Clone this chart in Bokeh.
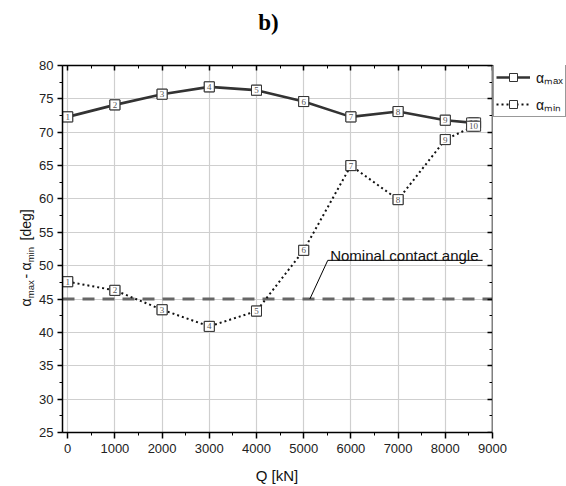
import math
from bokeh.plotting import figure
from bokeh.layouts import row, column
from bokeh.models import (Range1d, LinearAxis, SingleIntervalTicker, Label,
                          Legend, LegendItem, ColumnDataSource, BoxAnnotation,
                          CustomJSTickFormatter)
from bokeh.core.properties import value
from bokeh.embed import file_html
from bokeh.resources import INLINE

# ---------------- data ----------------
Q = [0, 1000, 2000, 3000, 4000, 5000, 6000, 7000, 8000, 8600]
alpha_max = [72.3, 74.1, 75.7, 76.8, 76.3, 74.6, 72.3, 73.1, 71.8, 71.4]
alpha_min = [47.6, 46.3, 43.4, 40.9, 43.2, 52.3, 65.0, 59.9, 68.9, 70.9]
point_labels = ["1", "2", "3", "4", "5", "6", "7", "8", "9", "10"]
series_subscripts = ["max", "min"]
series_names = ["\u03b1\u2098\u2090\u2093", "\u03b1\u2098\u1d62\u2099"]
nominal_angle = 45
x_start, x_end = -110, 9000
y_start, y_end = 25, 80
x_ticks_interval = 1000
y_ticks_interval = 5
annot_text = "Nominal contact angle"
annot_x = [5130, 5510, 8790]
annot_y = [45, 50.8, 50.8]
annot_text_xy = (5560, 51.6)
title_text = "b)"
x_label = "Q [kN]"

FONT = "Liberation Sans"
SERIF = "Liberation Serif"
FRAME_BOTTOM = 432   # page y of the plot frame bottom (side strip shares it)
FRAME_LEFT = 62
AXIS_PX = 430        # pixels between x_start and x_end
FRAME_PX = 566 - FRAME_LEFT   # frame runs on under the legend


def bare(fig):
    fig.outline_line_color = None
    fig.background_fill_color = "white"
    fig.border_fill_color = "white"
    fig.grid.visible = False
    return fig


def lab(fig, text, x, y, size, angle=0, align="left", baseline="alphabetic",
        font=FONT, style="normal", color="#111111"):
    fig.add_layout(Label(x=x, y=y, x_units="screen", y_units="screen",
                         text=text, angle=angle, text_align=align,
                         text_baseline=baseline, text_font=font,
                         text_font_size=f"{size}px", text_font_style=style,
                         text_color=color, level="overlay"))


# ---------------- title strip ----------------
TH = 36
pt = bare(figure(width=566, height=TH, min_border=0, toolbar_location=None,
                 x_axis_location=None, y_axis_location=None,
                 output_backend="svg"))
lab(pt, title_text, 268, 14, 23, align="center", font=SERIF,
    style="bold", color="black")

# ---------------- main plot ----------------
RH = 486 - TH
W0 = 36
x_far = x_start + (x_end - x_start) * FRAME_PX / AXIS_PX
p = figure(width=566 - W0, height=RH, frame_width=FRAME_PX, frame_height=367,
           min_border_left=FRAME_LEFT - W0, min_border_right=0,
           min_border_top=65 - TH, min_border_bottom=486 - FRAME_BOTTOM,
           x_range=Range1d(x_start, x_far), y_range=Range1d(y_start, y_end),
           output_backend="svg", toolbar_location=None)
p.outline_line_color = None
p.background_fill_color = "white"
p.border_fill_color = "white"

xt = SingleIntervalTicker(interval=x_ticks_interval, num_minor_ticks=2)
yt = SingleIntervalTicker(interval=y_ticks_interval, num_minor_ticks=2)

# the axis title is centred on the whole (widened) frame; trailing no-break
# spaces pull its visible part back over the data area
x_label_shifted = x_label + "\u00a0" * 18

for ax in p.xaxis:
    ax.ticker = xt
    ax.bounds = (x_start, x_end)
    ax.major_tick_out = 6
    ax.major_tick_in = 0
    ax.minor_tick_out = 3
    ax.minor_tick_in = 0
    ax.major_label_standoff = 5
    ax.major_label_text_font = FONT
    ax.major_label_text_font_size = "13px"
    ax.major_label_text_color = "#222222"
    ax.axis_line_width = 1.5
    ax.major_tick_line_width = 1.5
    ax.axis_line_color = "black"
    ax.axis_label = x_label_shifted
    ax.axis_label_text_font = FONT
    ax.axis_label_text_font_size = "15px"
    ax.axis_label_text_font_style = "normal"
    ax.axis_label_text_color = "#111111"
    ax.axis_label_standoff = 11
for ax in p.yaxis:
    ax.ticker = yt
    ax.major_tick_out = 5
    ax.major_tick_in = 0
    ax.minor_tick_out = 3
    ax.minor_tick_in = 0
    ax.major_label_standoff = 4
    ax.major_label_text_font = FONT
    ax.major_label_text_font_size = "13px"
    ax.major_label_text_color = "#222222"
    ax.axis_line_width = 1.5
    ax.major_tick_line_width = 1.5
    ax.axis_line_color = "black"

p.xgrid.ticker = xt
p.xgrid.bounds = (x_start, x_end)
p.ygrid.ticker = yt
for g in (p.xgrid[0], p.ygrid[0]):
    g.grid_line_color = "#cfcfcf"
    g.grid_line_width = 1.2

# blank the strip of the frame that lies under the legend
p.add_layout(BoxAnnotation(left=x_end, fill_color="white", fill_alpha=1,
                           line_color=None))

right_ax = LinearAxis(ticker=yt, fixed_location=x_end,
                      major_tick_in=5, major_tick_out=0,
                      minor_tick_in=3, minor_tick_out=0,
                      formatter=CustomJSTickFormatter(code="return ''"),
                      major_label_standoff=0,
                      axis_line_width=1.5, major_tick_line_width=1.5)
top_ax = LinearAxis(ticker=xt, bounds=(x_start, x_end),
                    major_tick_in=5, major_tick_out=0,
                    minor_tick_in=3, minor_tick_out=0,
                    formatter=CustomJSTickFormatter(code="return ''"),
                    major_label_standoff=0,
                    axis_line_width=1.5, major_tick_line_width=1.5)
p.add_layout(right_ax, "right")
p.add_layout(top_ax, "above")

# nominal contact angle
p.line([x_start, x_end], [nominal_angle, nominal_angle], line_color="#666666",
       line_width=3, line_dash="12 8")
p.line(annot_x, annot_y, line_color="black", line_width=1)
p.text(x=[annot_text_xy[0]], y=[annot_text_xy[1]], text=[annot_text],
       text_font=value(FONT), text_font_size="15px", text_color="#111111",
       text_baseline="alphabetic", text_align="left")

# series
MAX_STYLE = dict(line_color="#333333", line_width=2.6)
MIN_STYLE = dict(line_color="#111111", line_width=2, line_dash="2 3")
MARK_STYLE = dict(marker="square", fill_color="white", line_color="#333333",
                  line_width=1)

leg_items = []
for ys, st, name in ((alpha_max, MAX_STYLE, series_names[0]),
                     (alpha_min, MIN_STYLE, series_names[1])):
    src = ColumnDataSource(dict(x=Q, y=ys, t=point_labels,
                                w=[6 + 4 * len(s) for s in point_labels]))
    ln = p.line("x", "y", source=src, **st)
    sc = p.scatter("x", "y", source=src, size=10, **MARK_STYLE)
    p.rect("x", "y", width="w", height=10, width_units="screen",
           height_units="screen", source=src, fill_color="white",
           line_color="#333333", line_width=1)
    p.text("x", "y", text="t", source=src, text_font=value(SERIF),
           text_font_size="9px", text_color="#555555", text_align="center",
           text_baseline="middle")
    leg_items.append(LegendItem(label=value(name), renderers=[ln, sc]))

LEG_LEFT, LEG_TOP, LEG_H = 493, 66, 51
legend = Legend(items=leg_items,
                location=(LEG_LEFT - FRAME_LEFT, FRAME_BOTTOM - LEG_TOP - LEG_H),
                glyph_width=34, glyph_height=20, spacing=7, padding=2,
                margin=0, label_standoff=6,
                border_line_color="#333333", border_line_width=1,
                background_fill_color="white", background_fill_alpha=1,
                label_text_font=FONT, label_text_font_size="14px",
                label_text_color="#111111")
p.add_layout(legend)

for i in range(len(series_names)):
    cy = LEG_TOP + 12 + 27 * i
    lab(p, point_labels[0], LEG_LEFT + 2 + 17 - FRAME_LEFT, FRAME_BOTTOM - cy,
        8, align="center", baseline="middle", font=SERIF, color="#555555")

# ---------------- y label strip (left) ----------------
p0 = bare(figure(width=W0, height=RH, min_border=0, toolbar_location=None,
                 x_axis_location=None, y_axis_location=None,
                 output_backend="svg"))
# (text, font px, is subscript, start offset along the label from its foot)
pieces = [("\u03b1", 14, False, 0.0), (series_subscripts[0], 9.5, True, 8.3),
          ("-", 14, False, 28.0), ("\u03b1", 14, False, 36.0),
          (series_subscripts[1], 9.5, True, 44.2), ("[deg]", 14, False, 66.0)]
label_foot = 306.0
for txt, sz, sub, off in pieces:
    xb = 29.5 if sub else 25
    lab(p0, txt, xb, FRAME_BOTTOM - (label_foot - off), sz, angle=math.pi / 2)

layout = column(pt, row(p0, p, spacing=0), spacing=0)
open("out.html", "w").write(file_html(layout, INLINE))
